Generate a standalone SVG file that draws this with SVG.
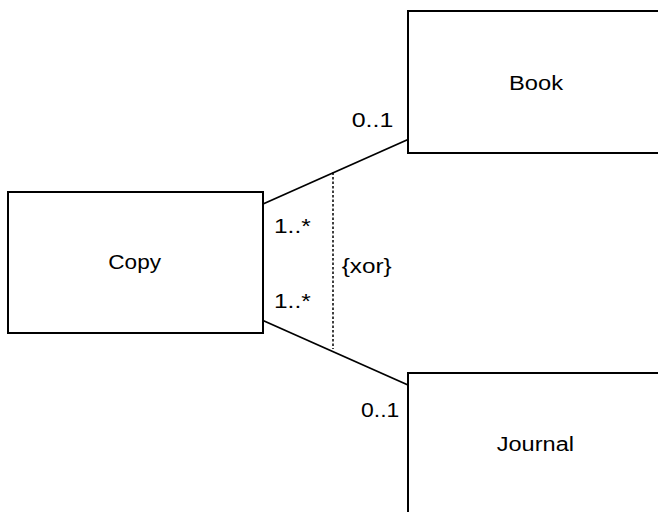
<svg xmlns="http://www.w3.org/2000/svg" width="658" height="512" viewBox="0 0 658 512">
<style>
.box{fill:#fff;stroke:#000;stroke-width:2}
.t{font-family:"Liberation Sans",Arial,sans-serif;font-size:20px;fill:#000}
.c{text-anchor:middle}
.ln{stroke:#000;stroke-width:1.8;fill:none}
.dot{stroke:#000;stroke-width:1.5;stroke-dasharray:2.5,2;fill:none}
</style>
<rect width="658" height="512" fill="#fff"/>
<g id="connectors">
<line class="ln" x1="263" y1="204" x2="408" y2="139.5"/>
<line class="ln" x1="263" y1="320.5" x2="408" y2="385"/>
<line class="dot" x1="333" y1="172.5" x2="333" y2="349"/>
<text class="t" x="351.7" y="127.3" textLength="41.6" lengthAdjust="spacingAndGlyphs">0..1</text>
<text class="t" x="361" y="417.3" textLength="38.3" lengthAdjust="spacingAndGlyphs">0..1</text>
<text class="t" x="274" y="232.5" textLength="36.7" lengthAdjust="spacingAndGlyphs">1..*</text>
<text class="t" x="274" y="308.3" textLength="36.7" lengthAdjust="spacingAndGlyphs">1..*</text>
<text class="t" x="341.7" y="272.7" textLength="50" lengthAdjust="spacingAndGlyphs">{xor}</text>
</g>
<g id="copy">
<rect class="box" x="8" y="192" width="255" height="141"/>
<text class="t" x="108.3" y="269.3" textLength="52.7" lengthAdjust="spacingAndGlyphs">Copy</text>
</g>
<g id="book">
<rect class="box" x="408" y="11" width="260" height="142"/>
<text class="t" x="509" y="90" textLength="54" lengthAdjust="spacingAndGlyphs">Book</text>
</g>
<g id="journal">
<rect class="box" x="408" y="373" width="260" height="150"/>
<text class="t" x="496.7" y="450.7" textLength="77.3" lengthAdjust="spacingAndGlyphs">Journal</text>
</g>
</svg>
